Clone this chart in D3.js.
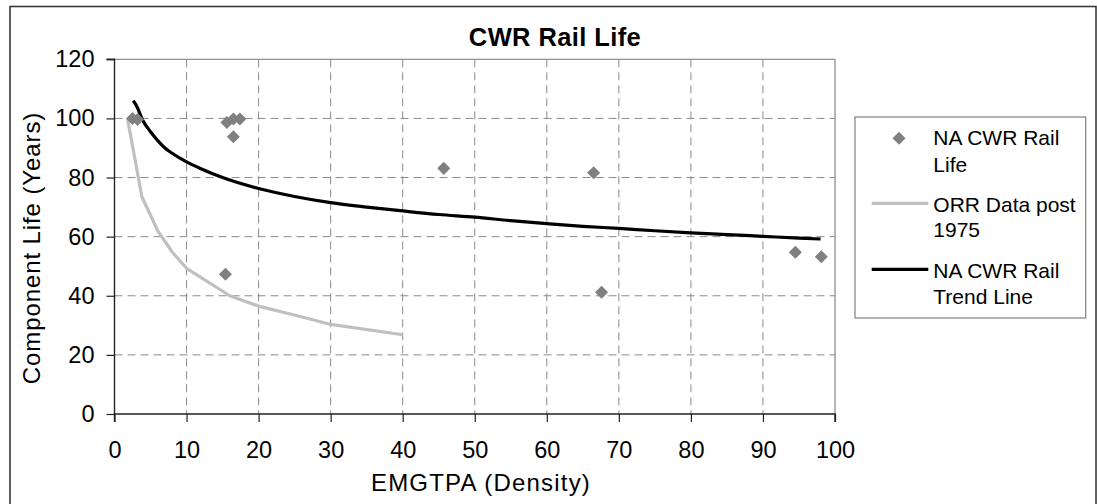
<!DOCTYPE html>
<html>
<head>
<meta charset="utf-8">
<script src="https://cdn.jsdelivr.net/npm/d3@7"></script>
<style>
  html, body { margin: 0; padding: 0; background: #fff; }
  svg { display: block; font-family: "Liberation Sans", Arial, sans-serif; }
</style>
</head>
<body>
<svg id="chart" width="1097" height="504"></svg>
<script>
// ---- data ----
const chartTitle = "CWR Rail Life";
const xTitle = "EMGTPA (Density)";
const yTitle = "Component Life (Years)";
const xTicks = [0, 10, 20, 30, 40, 50, 60, 70, 80, 90, 100];
const yTicks = [0, 20, 40, 60, 80, 100, 120];

// NA CWR Rail Life (scatter)
const naX = [2.5, 3.2, 15.6, 16.5, 17.4, 16.5, 15.4, 45.7, 66.5, 67.6, 94.5, 98.1];
const naY = [100, 99.6, 98.6, 99.8, 99.8, 93.8, 47.3, 83.1, 81.6, 41.2, 54.7, 53.2];

// ORR Data post 1975 (line)
const orrX = [1.8, 3.8, 6, 8, 10, 16, 20, 27, 30, 40];
const orrY = [100, 73.5, 62, 54.8, 49.3, 40, 36.5, 32.2, 30.3, 26.8];

// NA CWR Rail Trend Line
const trendX = [2.6, 3, 4, 5, 6, 7, 8, 10, 12, 15, 20, 25, 30, 35, 40, 45, 50, 55, 60, 65, 70, 75, 80, 85, 90, 95, 98];
const trendY = [106, 104.5, 99, 95.5, 92.5, 90, 88.2, 85.3, 83, 80, 76.3, 73.6, 71.5, 70, 68.7, 67.5, 66.6, 65.4, 64.4, 63.5, 62.8, 62, 61.3, 60.7, 60.1, 59.5, 59.2];

const legendLabels = [["NA CWR Rail", "Life"], ["ORR Data post", "1975"], ["NA CWR Rail", "Trend Line"]];

// ---- drawing ----
const svg = d3.select("#chart");
const x = d3.scaleLinear().domain([0, 100]).range([114.5, 835]);
const y = d3.scaleLinear().domain([0, 120]).range([414, 59.3]);

// outer chart border
svg.append("rect").attr("x", 10).attr("y", 6.5).attr("width", 1086).attr("height", 520)
  .attr("fill", "none").attr("stroke", "#3a3a3a").attr("stroke-width", 1.6);

// gridlines
const grid = svg.append("g");
grid.selectAll("line.v").data(xTicks.filter(d => d > 0 && d < 100)).join("line")
  .attr("x1", d => x(d)).attr("x2", d => x(d)).attr("y1", y(120)).attr("y2", y(0))
  .attr("stroke", "#8a8a8a").attr("stroke-width", 1).attr("stroke-dasharray", "8,5");
grid.selectAll("line.h").data(yTicks.filter(d => d > 0 && d < 120)).join("line")
  .attr("x1", x(0)).attr("x2", x(100)).attr("y1", d => y(d)).attr("y2", d => y(d))
  .attr("stroke", "#8a8a8a").attr("stroke-width", 1).attr("stroke-dasharray", "8,5");

// plot area border top/right
svg.append("path")
  .attr("d", `M${x(0)},${y(120)}H${x(100)}V${y(0)}`)
  .attr("fill", "none").attr("stroke", "#909090").attr("stroke-width", 1.3);

// axes
const xAxis = d3.axisBottom(x).tickValues(xTicks).tickSize(8).tickPadding(19).tickFormat(d3.format("d"));
const yAxis = d3.axisLeft(y).tickValues(yTicks).tickSize(8).tickPadding(12).tickFormat(d3.format("d"));
const gx = svg.append("g").attr("transform", `translate(0,${y(0)})`).call(xAxis);
const gy = svg.append("g").attr("transform", `translate(${x(0)},0)`).call(yAxis);
[gx, gy].forEach(g => {
  g.select(".domain").attr("stroke", "#222").attr("stroke-width", 1.4);
  g.selectAll(".tick line").attr("stroke", "#222").attr("stroke-width", 1.2);
  g.selectAll(".tick text").attr("fill", "#000").style("font-size", "23.5px")
    .style("font-family", "'Liberation Sans', Arial, sans-serif");
});
gx.select(".domain").attr("d", `M${x(0)},8V0H${x(100)}V8`);
gy.select(".domain").attr("d", `M-8,${y(120)}H0V${y(0)}`);

// ORR line
const lineGen = d3.line().x(d => x(d[0])).y(d => y(d[1]));
svg.append("path").datum(d3.zip(orrX, orrY)).attr("d", lineGen)
  .attr("fill", "none").attr("stroke", "#c0c0c0").attr("stroke-width", 3.2)
  .attr("stroke-linejoin", "round");

// trend line
svg.append("path").datum(d3.zip(trendX, trendY)).attr("d", lineGen.curve(d3.curveMonotoneX))
  .attr("fill", "none").attr("stroke", "#000").attr("stroke-width", 3.2)
  .attr("stroke-linejoin", "round");

// scatter diamonds
const diamond = d3.symbol().type(d3.symbolSquare).size(85);
svg.append("g").selectAll("path").data(d3.zip(naX, naY)).join("path")
  .attr("d", diamond)
  .attr("transform", d => `translate(${x(d[0])},${y(d[1])}) rotate(45)`)
  .attr("fill", "#808080");

// title
svg.append("text").attr("x", 555).attr("y", 46).attr("text-anchor", "middle")
  .style("font-size", "25.5px").style("font-weight", "bold").style("letter-spacing", "0.4px").text(chartTitle);

// axis titles
svg.append("text").attr("x", 481).attr("y", 491).attr("text-anchor", "middle")
  .style("font-size", "24px").style("letter-spacing", "1.2px").text(xTitle);
svg.append("text").attr("transform", `translate(40,248) rotate(-90)`).attr("text-anchor", "middle")
  .style("font-size", "24px").style("letter-spacing", "0.9px").text(yTitle);

// legend
const lg = svg.append("g");
lg.append("rect").attr("x", 855).attr("y", 117).attr("width", 230.7).attr("height", 201)
  .attr("fill", "#fff").attr("stroke", "#808080").attr("stroke-width", 1.2);
lg.append("path").attr("d", diamond)
  .attr("transform", "translate(899,138.3) rotate(45)").attr("fill", "#808080");
lg.append("line").attr("x1", 871.7).attr("x2", 928.3).attr("y1", 203.3).attr("y2", 203.3)
  .attr("stroke", "#c0c0c0").attr("stroke-width", 3.2);
lg.append("line").attr("x1", 871.7).attr("x2", 928.3).attr("y1", 269.3).attr("y2", 269.3)
  .attr("stroke", "#000").attr("stroke-width", 3.2);
const legBase = [[145, 171.5], [211.5, 237], [277.5, 304]];
legendLabels.forEach((lines, i) => {
  lines.forEach((t, j) => {
    lg.append("text").attr("x", 933.3).attr("y", legBase[i][j])
      .style("font-size", "21px").text(t);
  });
});
</script>
</body>
</html>
